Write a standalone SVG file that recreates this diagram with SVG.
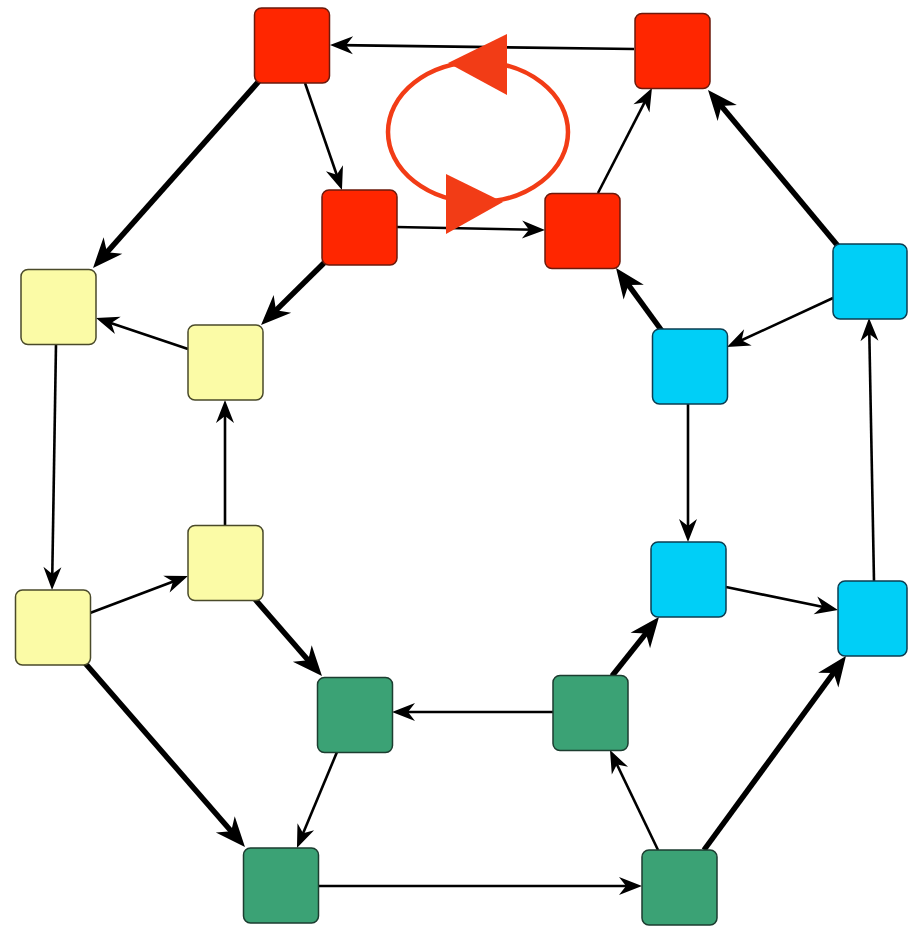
<svg xmlns="http://www.w3.org/2000/svg" width="908" height="927" viewBox="0 0 908 927">
<style>
.n{stroke-width:1.5}
.red{fill:#FF2600;stroke:#6b1a0c}
.yel{fill:#FBFBA6;stroke:#4a4a2a}
.blu{fill:#00CFF7;stroke:#0b3e52}
.grn{fill:#3BA275;stroke:#1c3d30}
.e{fill:none;stroke:#000;stroke-width:2.6}
.t{fill:none;stroke:#000;stroke-width:5.5}
.cyc{fill:none;stroke:#F23C16;stroke-width:4.5}
.tri{fill:#F23C16}
</style>
<defs>
<marker id="a" markerUnits="userSpaceOnUse" markerWidth="30" markerHeight="30" refX="13" refY="0" orient="auto" overflow="visible"><path d="M23,0 L0,-9 L7,0 L0,9 Z" fill="#000"/></marker>
<marker id="b" markerUnits="userSpaceOnUse" markerWidth="36" markerHeight="36" refX="18" refY="0" orient="auto" overflow="visible"><path d="M30,0 L0,-12.5 L9,0 L0,12.5 Z" fill="#000"/></marker>
</defs>
<g id="connectors">
<line class="e" x1="634" y1="49" x2="340" y2="45.1" marker-end="url(#a)"/>
<line class="e" x1="305" y1="83" x2="338.7" y2="180.5" marker-end="url(#a)"/>
<line class="e" x1="396" y1="227" x2="535" y2="229.8" marker-end="url(#a)"/>
<line class="e" x1="598" y1="193" x2="647.4" y2="96.9" marker-end="url(#a)"/>
<line class="e" x1="188" y1="349" x2="105.5" y2="321.2" marker-end="url(#a)"/>
<line class="e" x1="56" y1="344" x2="52.2" y2="580" marker-end="url(#a)"/>
<line class="e" x1="225" y1="526" x2="225" y2="410" marker-end="url(#a)"/>
<line class="e" x1="90" y1="613" x2="178.6" y2="579.5" marker-end="url(#a)"/>
<line class="e" x1="833" y1="298" x2="736.1" y2="342.8" marker-end="url(#a)"/>
<line class="e" x1="688" y1="403" x2="688" y2="532" marker-end="url(#a)"/>
<line class="e" x1="726" y1="587" x2="828.2" y2="608" marker-end="url(#a)"/>
<line class="e" x1="874" y1="581" x2="869.2" y2="328" marker-end="url(#a)"/>
<line class="e" x1="553" y1="712" x2="402" y2="712" marker-end="url(#a)"/>
<line class="e" x1="337" y1="752" x2="300.8" y2="838.8" marker-end="url(#a)"/>
<line class="e" x1="318" y1="886" x2="632" y2="886" marker-end="url(#a)"/>
<line class="e" x1="658" y1="850" x2="614.3" y2="759" marker-end="url(#a)"/>
<line class="t" x1="260" y1="80" x2="101" y2="259" marker-end="url(#b)"/>
<line class="t" x1="326" y1="261" x2="269.6" y2="316.6" marker-end="url(#b)"/>
<line class="t" x1="838" y1="246" x2="715.7" y2="99.2" marker-end="url(#b)"/>
<line class="t" x1="662" y1="331" x2="623.1" y2="277.7" marker-end="url(#b)"/>
<line class="t" x1="254" y1="598" x2="314.1" y2="667" marker-end="url(#b)"/>
<line class="t" x1="85" y1="663" x2="237.1" y2="838" marker-end="url(#b)"/>
<line class="t" x1="612" y1="676" x2="651.5" y2="626.4" marker-end="url(#b)"/>
<line class="t" x1="704" y1="850" x2="838.9" y2="665.7" marker-end="url(#b)"/>
</g>
<g id="R1"><rect class="n red" x="254.5" y="8" width="75" height="75" rx="7"/></g>
<g id="R2"><rect class="n red" x="635" y="13.5" width="75" height="75" rx="7"/></g>
<g id="R3"><rect class="n red" x="322" y="190" width="75" height="75" rx="7"/></g>
<g id="R4"><rect class="n red" x="545" y="193.5" width="75" height="75" rx="7"/></g>
<g id="Y1"><rect class="n yel" x="21" y="269.5" width="75" height="75" rx="7"/></g>
<g id="Y2"><rect class="n yel" x="188" y="325" width="75" height="75" rx="7"/></g>
<g id="Y3"><rect class="n yel" x="188" y="525.5" width="75" height="75" rx="7"/></g>
<g id="Y4"><rect class="n yel" x="15.5" y="590" width="75" height="75" rx="7"/></g>
<g id="G1"><rect class="n grn" x="317.5" y="677.5" width="75" height="75" rx="7"/></g>
<g id="G2"><rect class="n grn" x="553" y="675.5" width="75" height="75" rx="7"/></g>
<g id="G3"><rect class="n grn" x="243.5" y="848" width="75" height="75" rx="7"/></g>
<g id="G4"><rect class="n grn" x="642" y="850" width="75" height="75" rx="7"/></g>
<g id="B1"><rect class="n blu" x="833" y="244" width="74" height="75" rx="7"/></g>
<g id="B2"><rect class="n blu" x="652.5" y="329" width="75" height="75" rx="7"/></g>
<g id="B3"><rect class="n blu" x="651" y="542" width="75" height="75" rx="7"/></g>
<g id="B4"><rect class="n blu" x="838" y="581" width="69" height="75" rx="7"/></g>
<g id="cycle">
<ellipse class="cyc" cx="478" cy="132" rx="90" ry="70"/>
<polygon class="tri" points="448,63 507,34 507,95"/>
<polygon class="tri" points="446,174 446,234 503,202"/>
</g>
</svg>
